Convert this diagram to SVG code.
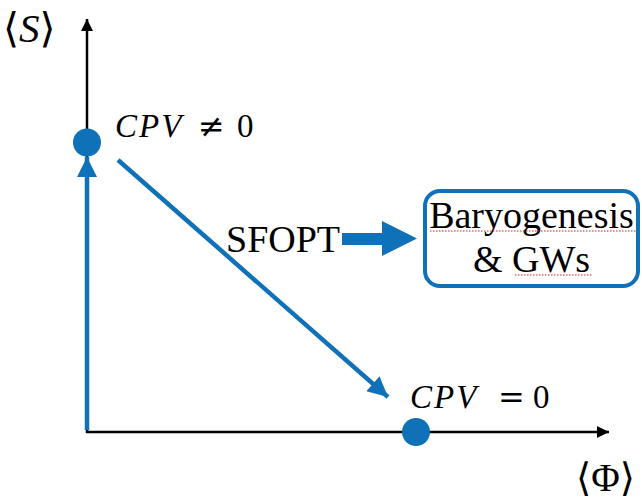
<svg xmlns="http://www.w3.org/2000/svg" width="642" height="502" viewBox="0 0 642 502">
<style>
.ax{stroke:#000;stroke-width:2.5;fill:none}
.bl{stroke:#0F71B8;stroke-width:4.5;fill:none}
.dot{fill:#0F71B8}
.math{font-family:"Liberation Serif","Times New Roman",serif;font-size:33px;fill:#000}
.it{font-style:italic;letter-spacing:2px}
.op{font-family:"DejaVu Serif",serif;font-size:32px}
.txt{font-family:"Liberation Serif","Times New Roman",serif;font-size:38px;fill:#000}
.br{font-family:"DejaVu Serif",serif;font-style:normal}
.sq{stroke:#e02020;stroke-width:1.2;stroke-dasharray:1.5 1.5}
</style>
<defs>
<marker id="ah" viewBox="0 0 10 10" refX="10" refY="5" markerWidth="14" markerHeight="12" markerUnits="userSpaceOnUse" orient="auto"><path d="M0,0 L10,5 L0,10 Z" fill="#000"/></marker>
<marker id="bh" viewBox="0 0 10 10" refX="10" refY="5" markerWidth="21" markerHeight="20" markerUnits="userSpaceOnUse" orient="auto"><path d="M0,0 L10,5 L0,10 Z" fill="#0F71B8"/></marker>
</defs>
<g id="connectors">
<line class="ax" x1="87" y1="433" x2="87" y2="19" marker-end="url(#ah)"/>
<line class="ax" x1="86" y1="432" x2="609" y2="432" marker-end="url(#ah)"/>
<line class="bl" x1="87" y1="430" x2="87" y2="157" marker-end="url(#bh)"/>
<line class="bl" x1="118" y1="160" x2="388" y2="397" marker-end="url(#bh)"/>
<path id="fat-arrow" d="M342,233 L382,233 L382,221 L417,238.5 L382,256 L382,245 L342,245 Z" fill="#0F71B8"/>
</g>
<g id="axis-S"><text class="math" x="3" y="42" style="font-size:41px"><tspan class="br">⟨</tspan><tspan font-style="italic">S</tspan><tspan class="br">⟩</tspan></text></g>
<g id="axis-Phi"><text class="math" x="576" y="491" style="font-size:39px"><tspan class="br">⟨</tspan>Φ<tspan class="br">⟩</tspan></text></g>
<g id="node-cpv-neq">
<circle class="dot" cx="87" cy="142.5" r="14"/>
<text class="math" y="137"><tspan class="it" x="115">CPV</tspan><tspan class="op" x="198">≠</tspan><tspan x="237">0</tspan></text>
</g>
<g id="node-cpv-eq">
<circle class="dot" cx="416" cy="432" r="14"/>
<text class="math" y="408"><tspan class="it" x="410">CPV</tspan><tspan class="op" x="498">=</tspan><tspan x="533">0</tspan></text>
</g>
<g id="label-sfopt"><text class="txt" x="226" y="252">SFOPT</text></g>
<g id="node-baryogenesis">
<rect x="425" y="191" width="213" height="95" rx="15" fill="#fff" stroke="#0F71B8" stroke-width="4"/>
<text class="txt" x="531.5" y="228" text-anchor="middle">Baryogenesis</text>
<text class="txt" x="531.5" y="272" text-anchor="middle">&amp; GWs</text>
<line class="sq" x1="430" y1="231" x2="637" y2="231"/>
<line class="sq" x1="515" y1="275" x2="592" y2="275"/>
</g>
</svg>
